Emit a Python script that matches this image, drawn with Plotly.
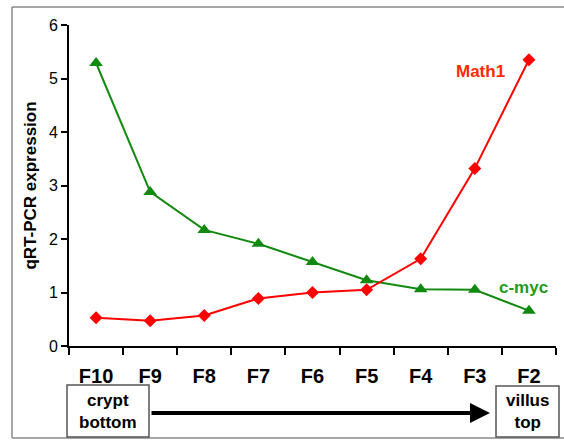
import plotly.graph_objects as go

# Crypt-to-villus fractions and relative expression levels
fractions = ["F10", "F9", "F8", "F7", "F6", "F5", "F4", "F3", "F2"]
math1 = [0.53, 0.47, 0.57, 0.89, 1.00, 1.05, 1.63, 3.32, 5.35]
cmyc = [5.29, 2.88, 2.17, 1.91, 1.57, 1.23, 1.06, 1.05, 0.66]
y_ticks = [0, 1, 2, 3, 4, 5, 6]

W, H = 564, 443
M_L, M_R, M_T, M_B = 69, 8, 25, 97
PL, PR, PT, PB = M_L, W - M_R, M_T, H - M_B

def px_x(p):
    return (p - PL) / (PR - PL)

def px_y(p):
    return (PB - p) / (PB - PT)

FONT = "Liberation Sans, Arial, sans-serif"
RED_LINE = "#ff0000"
GREEN_LINE = "#128a12"

fig = go.Figure()
fig.add_trace(go.Scatter(
    x=fractions, y=cmyc, mode="lines+markers",
    line=dict(color=GREEN_LINE, width=2),
    marker=dict(symbol="triangle-up", size=12, color=GREEN_LINE),
    cliponaxis=False, showlegend=False,
))
fig.add_trace(go.Scatter(
    x=fractions, y=math1, mode="lines+markers",
    line=dict(color=RED_LINE, width=2),
    marker=dict(symbol="diamond", size=10, color=RED_LINE),
    cliponaxis=False, showlegend=False,
))

shapes = []
# outer frame (open on the right)
frame = dict(type="line", xref="paper", yref="paper",
             line=dict(color="#8a8a8a", width=1.5), layer="above")
shapes.append(dict(frame, x0=px_x(12), x1=px_x(W + 2), y0=px_y(7), y1=px_y(7)))
shapes.append(dict(frame, x0=px_x(12), x1=px_x(12), y0=px_y(7), y1=px_y(438)))
shapes.append(dict(frame, x0=px_x(12), x1=px_x(W + 2), y0=px_y(438), y1=px_y(438)))

# boxes for crypt bottom / villus top
box = dict(type="rect", xref="paper", yref="paper",
           line=dict(color="#555555", width=1.5), fillcolor="white")
shapes.append(dict(box, x0=px_x(67), x1=px_x(149), y0=px_y(385), y1=px_y(437)))
shapes.append(dict(box, x0=px_x(496), x1=px_x(559), y0=px_y(386), y1=px_y(437)))

def label(text, x, y, color, size=17):
    return dict(text=text, x=px_x(x), y=px_y(y), xref="paper", yref="paper",
                xanchor="center", yanchor="middle", showarrow=False,
                font=dict(family=FONT, size=size, color=color))

annotations = [
    label("<b>Math1</b>", 480, 71, "#ff2a00"),
    label("<b>c-myc</b>", 523, 287, "#1f9a1f"),
    label("<b>crypt<br>bottom</b>", 108, 411, "black"),
    label("<b>villus<br>top</b>", 527.5, 411.5, "black"),
    # direction arrow from crypt to villus
    dict(text="", x=px_x(490), y=px_y(413), xref="paper", yref="paper",
         showarrow=True, ax=-(490 - 150), ay=0, axref="pixel", ayref="pixel",
         arrowhead=2, arrowsize=1, arrowwidth=4, arrowcolor="black", standoff=0),
]

fig.update_layout(
    width=W, height=H,
    margin=dict(l=M_L, r=M_R, t=M_T, b=M_B),
    paper_bgcolor="white", plot_bgcolor="white",
    shapes=shapes, annotations=annotations,
    font=dict(family=FONT, color="black"),
    xaxis=dict(
        type="category", range=[-0.5, len(fractions) - 0.5],
        tickson="boundaries", ticks="outside", ticklen=7, tickwidth=2, tickcolor="black",
        showline=True, linecolor="black", linewidth=2, showgrid=False, zeroline=False,
        tickfont=dict(family=FONT, size=20, color="black"),
        tickprefix="<b>", ticksuffix="</b>", ticklabelstandoff=11,
    ),
    yaxis=dict(
        range=[0, 6], tickvals=y_ticks, ticks="outside", ticklen=6, tickwidth=2,
        tickcolor="black", showline=True, linecolor="black", linewidth=2,
        showgrid=False, zeroline=False,
        tickfont=dict(family=FONT, size=16, color="black"),
        tickprefix="<b>", ticksuffix="</b>",
        title=dict(text="<b>qRT-PCR expression</b>", standoff=8,
                   font=dict(family=FONT, size=17, color="black")),
    ),
)

fig.write_html("out.html")
